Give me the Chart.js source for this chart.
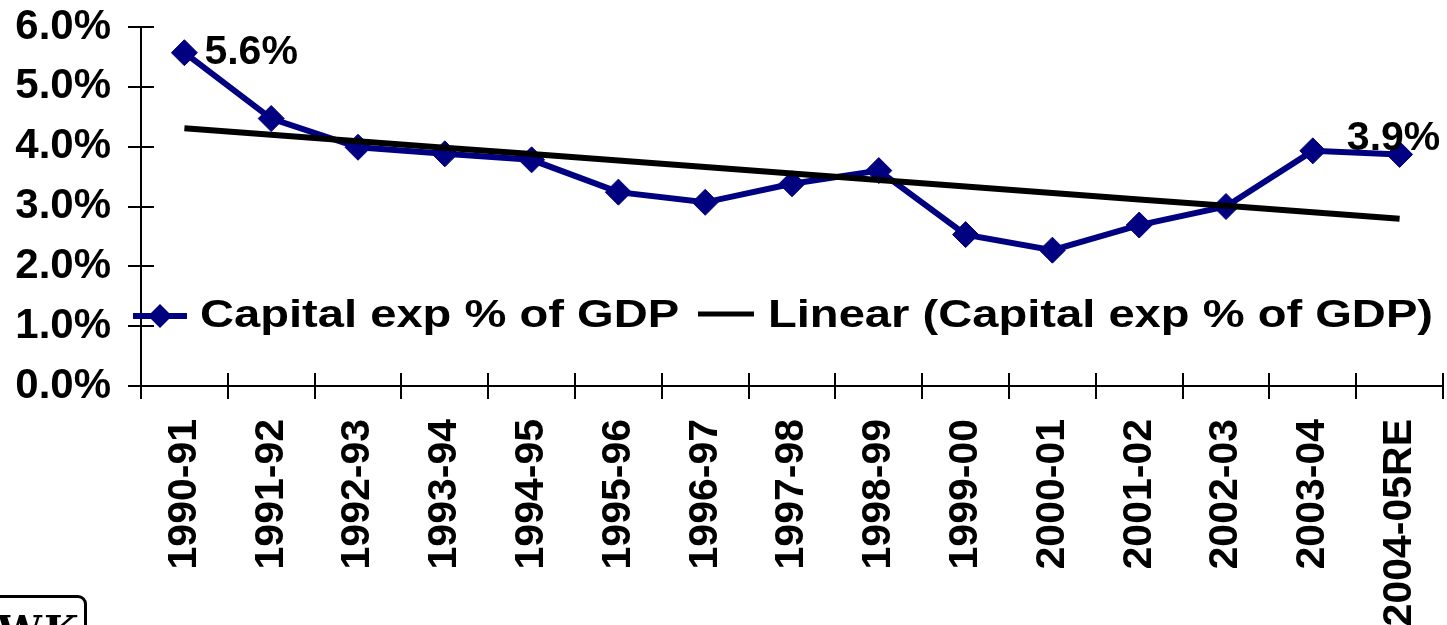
<!DOCTYPE html>
<html>
<head>
<meta charset="utf-8">
<script src="https://cdn.jsdelivr.net/npm/chart.js@4/dist/chart.umd.min.js"></script>
<style>
  html, body { margin: 0; padding: 0; background: #fff; overflow: hidden; }
  #wrap { position: relative; width: 1447px; height: 625px; overflow: hidden; }
  #logo {
    position: absolute; left: -12px; top: 595px; width: 99px; height: 60px;
    border: 3px solid #000; border-radius: 9px; box-sizing: border-box; overflow: hidden;
    font: 900 40px "DejaVu Serif", serif; color: #000; line-height: 1; padding: 12px 0 0 6px;
    letter-spacing: 2px;
  }
</style>
</head>
<body>
<div id="wrap">
  <canvas id="c" width="1457" height="625"></canvas>
  <div id="logo">WK</div>
</div>
<script>
// values (% of GDP)
const years = ['1990-91', '1991-92', '1992-93', '1993-94', '1994-95', '1995-96', '1996-97',
  '1997-98', '1998-99', '1999-00', '2000-01', '2001-02', '2002-03', '2003-04', '2004-05RE'];
const capitalExp = [5.57, 4.47, 3.99, 3.88, 3.78, 3.24, 3.07, 3.38, 3.60, 2.53, 2.27, 2.69, 3.00, 3.93, 3.87];
const yTicks = [0, 1, 2, 3, 4, 5, 6];
const seriesName = 'Capital exp % of GDP';
const trendName = 'Linear (Capital exp % of GDP)';

// least squares trend, like the spreadsheet's linear trendline
function linearTrend(ys) {
  const n = ys.length;
  const mx = (n - 1) / 2;
  const my = ys.reduce((a, b) => a + b, 0) / n;
  let sxy = 0, sxx = 0;
  ys.forEach((y, i) => { sxy += (i - mx) * (y - my); sxx += (i - mx) * (i - mx); });
  const b = sxy / sxx;
  return ys.map((y, i) => my + b * (i - mx));
}
const trend = linearTrend(capitalExp);

const NAVY = '#000080';
const FONT = "'Liberation Sans', Arial, sans-serif";

// tick marks that cross the axis lines
const innerTicks = {
  id: 'innerTicks',
  afterDraw(chart) {
    const { ctx, chartArea: a, scales } = chart;
    ctx.save();
    ctx.strokeStyle = '#000';
    ctx.lineWidth = 2;
    ctx.beginPath();
    yTicks.forEach(v => {
      const y = Math.round(scales.y.getPixelForValue(v));
      ctx.moveTo(a.left, y);
      ctx.lineTo(a.left + 13, y);
    });
    const step = (a.right - a.left) / years.length;
    for (let i = 0; i <= years.length; i++) {
      const x = Math.round(a.left + i * step);
      ctx.moveTo(x, a.bottom);
      ctx.lineTo(x, a.bottom - 13);
    }
    ctx.stroke();
    ctx.restore();
  }
};

// first and last point labels
const pointLabels = {
  id: 'pointLabels',
  afterDatasetsDraw(chart) {
    const { ctx } = chart;
    const meta = chart.getDatasetMeta(1);
    const first = meta.data[0];
    const last = meta.data[meta.data.length - 1];
    ctx.save();
    ctx.fillStyle = '#000';
    ctx.font = 'bold 41px ' + FONT;
    ctx.textAlign = 'left';
    ctx.textBaseline = 'middle';
    ctx.fillText(capitalExp[0].toFixed(1) + '%', first.x + 20, first.y);
    ctx.textAlign = 'center';
    ctx.textBaseline = 'alphabetic';
    ctx.fillText(capitalExp[capitalExp.length - 1].toFixed(1) + '%', last.x - 6, last.y - 4);
    ctx.restore();
  }
};

// legend drawn inside the plot, stretched a little like the original
const innerLegend = {
  id: 'innerLegend',
  afterDraw(chart) {
    const { ctx } = chart;
    const y = 316;
    const sx = 1.24;
    ctx.save();
    ctx.lineCap = 'butt';
    ctx.strokeStyle = NAVY;
    ctx.lineWidth = 6;
    ctx.beginPath(); ctx.moveTo(133, y); ctx.lineTo(187, y); ctx.stroke();
    ctx.fillStyle = NAVY;
    ctx.beginPath();
    ctx.moveTo(160, y - 12); ctx.lineTo(172, y); ctx.lineTo(160, y + 12); ctx.lineTo(148, y);
    ctx.closePath(); ctx.fill();
    ctx.strokeStyle = '#000';
    ctx.lineWidth = 5;
    ctx.beginPath(); ctx.moveTo(698, y - 2); ctx.lineTo(754, y - 2); ctx.stroke();

    ctx.fillStyle = '#000';
    ctx.font = 'bold 38px ' + FONT;
    ctx.textBaseline = 'middle';
    ctx.textAlign = 'left';
    [[200, seriesName], [768, trendName]].forEach(([x, t]) => {
      ctx.save();
      ctx.translate(x, y);
      ctx.scale(sx, 1);
      ctx.fillText(t, 0, 1);
      ctx.restore();
    });
    ctx.restore();
  }
};

new Chart(document.getElementById('c'), {
  type: 'line',
  data: {
    labels: years,
    datasets: [
      {
        label: trendName,
        data: trend,
        borderColor: '#000',
        borderWidth: 6,
        pointRadius: 0,
        fill: false,
        order: 0
      },
      {
        label: seriesName,
        data: capitalExp,
        borderColor: NAVY,
        backgroundColor: NAVY,
        borderWidth: 6,
        pointStyle: 'rectRot',
        pointRadius: 13,
        pointBorderWidth: 1,
        pointBackgroundColor: NAVY,
        pointBorderColor: NAVY,
        tension: 0,
        fill: false,
        order: 1
      }
    ]
  },
  options: {
    responsive: false,
    animation: false,
    devicePixelRatio: 1,
    layout: { padding: { top: 27, right: 0, bottom: 0, left: 0 } },
    plugins: {
      legend: { display: false },
      tooltip: { enabled: false },
      title: { display: false }
    },
    scales: {
      x: {
        type: 'category',
        offset: true,
        grid: { offset: true, drawOnChartArea: false, color: '#000', lineWidth: 2, tickLength: 13 },
        border: { color: '#000', width: 2 },
        ticks: {
          autoSkip: false,
          maxRotation: 90,
          minRotation: 90,
          padding: 20,
          color: '#000',
          font: { family: FONT, size: 41, weight: 'bold' }
        },
        afterFit(scale) {
          scale.height = 239;
          scale.paddingLeft = 0;
          scale.paddingRight = 0;
        }
      },
      y: {
        min: 0,
        max: 6,
        afterBuildTicks(scale) { scale.ticks = yTicks.map(v => ({ value: v })); },
        grid: { drawOnChartArea: false, color: '#000', lineWidth: 2, tickLength: 13 },
        border: { color: '#000', width: 2 },
        ticks: {
          padding: 17,
          color: '#000',
          font: { family: FONT, size: 42, weight: 'bold' },
          callback: v => v.toFixed(1) + '%'
        },
        afterFit(scale) {
          scale.width = 141;
          scale.paddingTop = 0;
          scale.paddingBottom = 0;
        }
      }
    }
  },
  plugins: [innerTicks, pointLabels, innerLegend]
});
</script>
</body>
</html>
